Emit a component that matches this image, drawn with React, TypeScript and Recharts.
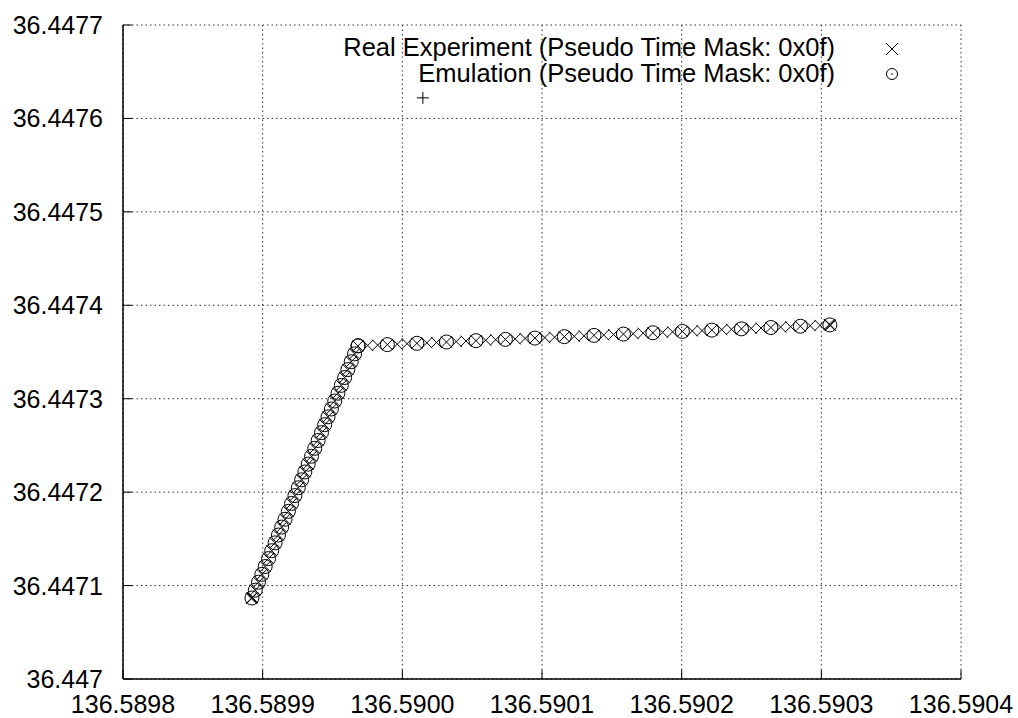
import React from 'react';
import { ScatterChart, Scatter, XAxis, YAxis, CartesianGrid, Legend } from 'recharts';

const xTicks = [136.5898, 136.5899, 136.59, 136.5901, 136.5902, 136.5903, 136.5904];
const yTicks = [36.447, 36.4471, 36.4472, 36.4473, 36.4474, 36.4475, 36.4476, 36.4477];

// Real experiment track (lon / lat)
const realLon = [
  136.5898923, 136.5898947, 136.589897, 136.5898994, 136.5899018, 136.5899042, 136.5899065, 136.5899089,
  136.5899113, 136.5899136, 136.589916, 136.5899184, 136.5899207, 136.5899231, 136.5899255, 136.5899279,
  136.5899302, 136.5899326, 136.589935, 136.5899373, 136.5899397, 136.5899421, 136.5899444, 136.5899468,
  136.5899492, 136.5899516, 136.5899539, 136.5899563, 136.5899587, 136.589961, 136.5899634, 136.5899658,
  136.5899682, 136.5899752, 136.5899823, 136.5899893, 136.5899964, 136.5900034, 136.5900104, 136.5900175,
  136.5900245, 136.5900316, 136.5900386, 136.5900456, 136.5900527, 136.5900597, 136.5900668, 136.5900738,
  136.5900808, 136.5900879, 136.5900949, 136.590102, 136.590109, 136.590116, 136.5901231, 136.5901301,
  136.5901372, 136.5901442, 136.5901512, 136.5901583, 136.5901653, 136.5901724, 136.5901794, 136.5901864,
  136.5901935, 136.5902005, 136.5902076, 136.5902146, 136.5902216, 136.5902287, 136.5902357, 136.5902428,
  136.5902498, 136.5902568, 136.5902639, 136.5902709, 136.590278, 136.590285, 136.590292, 136.5902991,
  136.5903061, 136.5903056, 136.5903066, 136.5898918, 136.5898928,
];
const realLat = [
  36.4470867, 36.4470951, 36.4471036, 36.447112, 36.4471204, 36.4471289, 36.4471373, 36.4471457,
  36.4471541, 36.4471626, 36.447171, 36.4471794, 36.4471879, 36.4471963, 36.4472047, 36.4472132,
  36.4472216, 36.44723, 36.4472384, 36.4472469, 36.4472553, 36.4472637, 36.4472722, 36.4472806,
  36.447289, 36.4472975, 36.4473059, 36.4473143, 36.4473227, 36.4473312, 36.4473396, 36.447348,
  36.4473565, 36.447357, 36.4473574, 36.4473579, 36.4473584, 36.4473589, 36.4473593, 36.4473598,
  36.4473603, 36.4473607, 36.4473612, 36.4473617, 36.4473621, 36.4473626, 36.4473631, 36.4473635,
  36.447364, 36.4473645, 36.4473649, 36.4473654, 36.4473659, 36.4473664, 36.4473668, 36.4473673,
  36.4473678, 36.4473682, 36.4473687, 36.4473692, 36.4473696, 36.4473701, 36.4473706, 36.447371,
  36.4473715, 36.447372, 36.4473725, 36.4473729, 36.4473734, 36.4473739, 36.4473743, 36.4473748,
  36.4473753, 36.4473757, 36.4473762, 36.4473767, 36.4473771, 36.4473776, 36.4473781, 36.4473785,
  36.447379, 36.4473795, 36.4473786, 36.4470862, 36.4470872,
];

// Emulation track
const emuLon = [
  136.5898923, 136.5898947, 136.589897, 136.5898994, 136.5899018, 136.5899042, 136.5899065, 136.5899089,
  136.5899113, 136.5899136, 136.589916, 136.5899184, 136.5899207, 136.5899231, 136.5899255, 136.5899279,
  136.5899302, 136.5899326, 136.589935, 136.5899373, 136.5899397, 136.5899421, 136.5899444, 136.5899468,
  136.5899492, 136.5899516, 136.5899539, 136.5899563, 136.5899587, 136.589961, 136.5899634, 136.5899658,
  136.5899682, 136.5899893, 136.5900104, 136.5900316, 136.5900527, 136.5900738, 136.5900949, 136.590116,
  136.5901372, 136.5901583, 136.5901794, 136.5902005, 136.5902216, 136.5902428, 136.5902639, 136.590285,
  136.5903061, 136.5899684,
];
const emuLat = [
  36.4470867, 36.4470951, 36.4471036, 36.447112, 36.4471204, 36.4471289, 36.4471373, 36.4471457,
  36.4471541, 36.4471626, 36.447171, 36.4471794, 36.4471879, 36.4471963, 36.4472047, 36.4472132,
  36.4472216, 36.44723, 36.4472384, 36.4472469, 36.4472553, 36.4472637, 36.4472722, 36.4472806,
  36.447289, 36.4472975, 36.4473059, 36.4473143, 36.4473227, 36.4473312, 36.4473396, 36.447348,
  36.4473565, 36.4473579, 36.4473593, 36.4473607, 36.4473621, 36.4473635, 36.4473649, 36.4473664,
  36.4473678, 36.4473692, 36.4473706, 36.447372, 36.4473734, 36.4473748, 36.4473762, 36.4473776,
  36.447379, 36.4473568,
];

// stray third-series point (no title)
const strayLon = [136.5900147];
const strayLat = [36.447622];

const seriesNames = ['Real Experiment (Pseudo Time Mask: 0x0f)', 'Emulation (Pseudo Time Mask: 0x0f)'];

const FS = 25;
const KEY_FS = 25.5;
const FONT = '"Liberation Sans", Arial, Helvetica, sans-serif';
const TICK = 9;

const toPoints = (lon: number[], lat: number[]) => lon.map((x, i) => ({ x, y: lat[i] }));

const realData = toPoints(realLon, realLat);
const emuData = toPoints(emuLon, emuLat);
const strayData = toPoints(strayLon, strayLat);

const CrossMark = ({ cx, cy, s = 5.5 }: any) => (
  <path
    d={`M${cx - s},${cy - s}L${cx + s},${cy + s}M${cx - s},${cy + s}L${cx + s},${cy - s}`}
    stroke="#000"
    strokeWidth={1}
    fill="none"
  />
);

const RingMark = ({ cx, cy }: any) => (
  <circle cx={cx} cy={cy} r={7} stroke="#000" strokeWidth={1} fill="none" />
);

const PlusMark = ({ cx, cy }: any) => (
  <path d={`M${cx - 6},${cy}L${cx + 6},${cy}M${cx},${cy - 6}L${cx},${cy + 6}`} stroke="#000" strokeWidth={1} fill="none" />
);

const BottomTick = ({ x, y, payload }: any) => (
  <g>
    <line x1={x} y1={y - 16} x2={x} y2={y - 16 - TICK} stroke="#000" strokeWidth={1} />
    <text x={x} y={y} dy="0.71em" textAnchor="middle" fontSize={FS} fontFamily={FONT} fill="#000">
      {Number(payload.value).toFixed(4)}
    </text>
  </g>
);

const LeftTick = ({ x, y, payload }: any) => (
  <g>
    <line x1={x + 20} y1={y} x2={x + 20 + TICK} y2={y} stroke="#000" strokeWidth={1} />
    <text x={x} y={y} dy="0.36em" textAnchor="end" fontSize={FS} fontFamily={FONT} fill="#000">
      {String(Number(Number(payload.value).toFixed(4)))}
    </text>
  </g>
);

const TopTick = ({ x, y }: any) => <line x1={x} y1={y} x2={x} y2={y + TICK} stroke="#000" strokeWidth={1} />;
const RightTick = ({ x, y }: any) => <line x1={x} y1={y} x2={x - TICK} y2={y} stroke="#000" strokeWidth={1} />;

const KeyBox = () => (
  <svg width={1018} height={95} style={{ display: 'block' }}>
    {seriesNames.map((name, i) => (
      <g key={name}>
        <text x={835} y={47 + i * 26} dy="0.36em" textAnchor="end" fontSize={KEY_FS} fontFamily={FONT} fill="#000">
          {name}
        </text>
        {i === 0 ? (
          <CrossMark cx={892} cy={49} s={6} />
        ) : (
          <g>
            <circle cx={892} cy={74} r={5.5} stroke="#000" fill="none" />
            <circle cx={892} cy={74} r={0.8} fill="#000" />
          </g>
        )}
      </g>
    ))}
  </svg>
);

export default function App() {
  return (
    <div style={{ position: 'absolute', left: 0, top: 0, width: 1018, height: 718, background: '#fff', fontFamily: FONT }}>
      <ScatterChart width={1018} height={718} margin={{ top: 25, right: 57, bottom: 0, left: 8 }}>
        <CartesianGrid stroke="#333" strokeDasharray="1.5 3" strokeWidth={1} />
        <XAxis
          type="number"
          dataKey="x"
          domain={[136.5898, 136.5904]}
          ticks={xTicks}
          interval={0}
          allowDataOverflow
          height={39}
          tickSize={0}
          tickMargin={16}
          tickLine={false}
          axisLine={{ stroke: '#000', strokeWidth: 1.5 }}
          tick={<BottomTick />}
        />
        <XAxis
          xAxisId="top"
          orientation="top"
          type="number"
          dataKey="x"
          domain={[136.5898, 136.5904]}
          ticks={xTicks}
          interval={0}
          allowDataOverflow
          height={0}
          tickSize={0}
          tickMargin={0}
          tickLine={false}
          axisLine={{ stroke: '#000', strokeWidth: 1.5 }}
          tick={<TopTick />}
        />
        <YAxis
          type="number"
          dataKey="y"
          domain={[36.447, 36.4477]}
          ticks={yTicks}
          interval={0}
          allowDataOverflow
          width={115}
          tickSize={0}
          tickMargin={20}
          tickLine={false}
          axisLine={{ stroke: '#000', strokeWidth: 1.5 }}
          tick={<LeftTick />}
        />
        <YAxis
          yAxisId="right"
          orientation="right"
          type="number"
          dataKey="y"
          domain={[36.447, 36.4477]}
          ticks={yTicks}
          interval={0}
          allowDataOverflow
          width={0}
          tickSize={0}
          tickMargin={0}
          tickLine={false}
          axisLine={{ stroke: '#000', strokeWidth: 1.5 }}
          tick={<RightTick />}
        />
        <Legend
          layout="vertical"
          align="center"
          verticalAlign="middle"
          content={<KeyBox />}
          wrapperStyle={{ top: 0, left: 0, width: 1018, height: 95 }}
        />
        <Scatter
          name={seriesNames[0]}
          data={realData}
          isAnimationActive={false}
          shape={(p: any) => <CrossMark cx={p.cx} cy={p.cy} />}
        />
        <Scatter
          name={seriesNames[1]}
          data={emuData}
          isAnimationActive={false}
          shape={(p: any) => <RingMark cx={p.cx} cy={p.cy} />}
        />
        <Scatter
          name="stray"
          legendType="none"
          data={strayData}
          isAnimationActive={false}
          shape={(p: any) => <PlusMark cx={p.cx} cy={p.cy} />}
        />
      </ScatterChart>
    </div>
  );
}
